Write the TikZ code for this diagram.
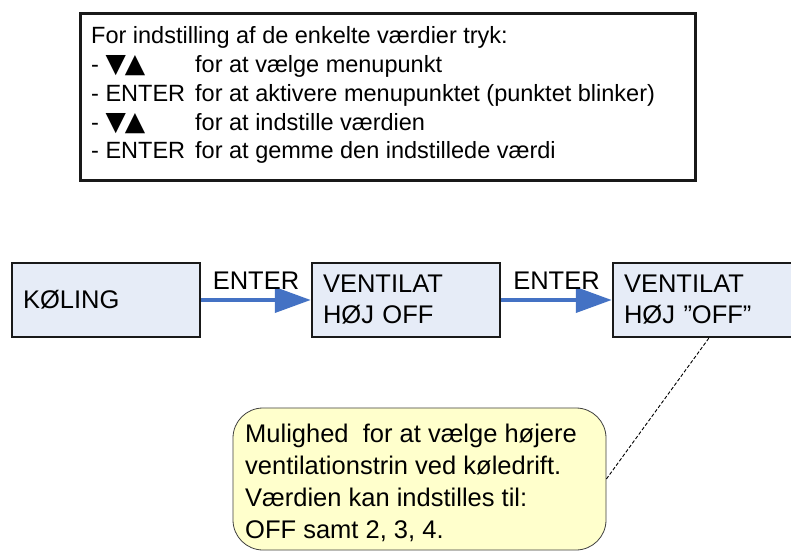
\documentclass[tikz,border=0pt]{standalone}
\usepackage{fontspec}
\setmainfont{Liberation Sans}
\newfontfamily\symfont{DejaVu Sans}
\usetikzlibrary{arrows.meta,calc}
\definecolor{boxfill}{RGB}{230,236,247}
\definecolor{arrblue}{RGB}{68,114,196}
\definecolor{notefill}{RGB}{255,255,204}
\newcommand{\updn}{{\symfont\fontsize{26.5}{28}\selectfont ▼\kern-1pt▲}}
\begin{document}
\begin{tikzpicture}[x=1pt,y=1pt,
  menubox/.style={draw=black!90, line width=2.5pt, fill=boxfill, minimum width=188pt, minimum height=74pt, text width=166pt, inner xsep=11pt, align=left, font=\fontsize{25.5}{31}\selectfont},
  flow/.style={arrblue, line width=4pt, -{Triangle[length=36pt,width=25pt]}},
  lbl/.style={font=\fontsize{25.5}{31}\selectfont, inner sep=0pt, anchor=base},
  infoline/.style={font=\fontsize{23.5}{28.75}\selectfont, inner sep=0pt, anchor=base west},
  infobox/.style={draw=black!90, line width=3pt, inner sep=0pt, minimum width=615pt, minimum height=167pt},
  note/.style={draw=black!75, line width=0.8pt, fill=notefill, rounded corners=30pt, minimum width=373pt, minimum height=142pt, inner sep=0pt},
  notetext/.style={font=\fontsize{25.5}{32}\selectfont, align=left, inner sep=0pt, anchor=north west},
  leader/.style={draw=black, line width=0.9pt, dash pattern=on 3.5pt off 2pt}]
\useasboundingbox (0,0) rectangle (791,551);
\clip (0,0) rectangle (791,551);
\fill[white] (0,0) rectangle (791,551);

% info box
\node[infobox] (info) at (387.5,453.5) {};
\node[infoline] (l1) at (91,507) {For indstilling af de enkelte værdier tryk:};
\node[infoline] (l2) at (91,478.25) {\makebox[104pt][l]{- \updn}for at vælge menupunkt};
\node[infoline] (l3) at (91,449.5) {\makebox[104pt][l]{- ENTER}for at aktivere menupunktet (punktet blinker)};
\node[infoline] (l4) at (91,420.75) {\makebox[104pt][l]{- \updn}for at indstille værdien};
\node[infoline] (l5) at (91,392) {\makebox[104pt][l]{- ENTER}for at gemme den indstillede værdi};

% menu boxes
\node[menubox] (b1) at (106,251) {KØLING};
\node[menubox] (b2) at (406,251) {VENTILAT\\HØJ OFF};
\node[menubox] (b3) at (707,251) {VENTILAT\\HØJ ”OFF”};

\draw[flow] (b1.east) -- (b2.west);
\draw[flow] (b2.east) -- (b3.west);
\node[lbl] (e1) at ($(b1.east)!0.5!(b2.west)+(0,10)$) {ENTER};
\node[lbl] (e2) at ($(b2.east)!0.5!(b3.west)+(0,10)$) {ENTER};

% callout
\node[note] (callout) at (419.5,72) {};
\node[notetext] (ctext) at (245,127.3) {Mulighed\ \ for at vælge højere\\ventilationstrin ved køledrift.\\Værdien kan indstilles til:\\OFF samt 2, 3, 4.};
\draw[leader] ($(b3.south west)+(97,0)$) -- (callout.east);
\end{tikzpicture}
\end{document}
